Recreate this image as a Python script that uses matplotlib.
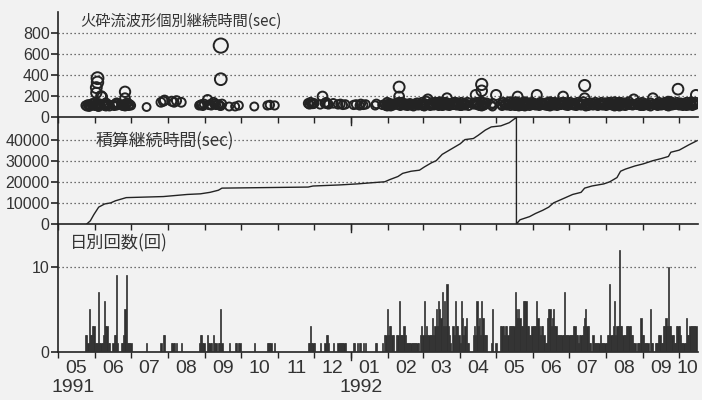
import numpy as np
import pandas as pd
import matplotlib
matplotlib.use("Agg")
import matplotlib.pyplot as plt
import matplotlib.transforms as mtransforms

# ---------------- data ----------------
START = "1991-05-01"          # day 0
END_DAY = 534.7               # right edge of the time axis (days after START)

# daily number of pyroclastic-flow signals: (day after START, count)
daily_counts = [
    (23,2),(24,2),(25,1),(26,5),(27,2),(28,2),(29,3),(30,3),(31,1),(32,1),(33,1),(34,7),(35,1),(36,1),
    (37,1),(38,2),(39,6),(40,3),(41,3),(42,1),(43,1),(46,1),(47,2),(48,2),(49,9),(50,1),(53,1),(54,1),
    (55,2),(56,5),(57,9),(58,1),(59,1),(60,1),(61,1),
    (74,1),(86,1),(88,2),(89,2),(95,1),(96,1),(97,1),(99,1),(103,1),
    (118,1),(119,2),(120,2),(121,1),(122,1),(125,2),(126,1),(127,1),(128,1),(130,2),(131,1),(132,1),
    (134,1),(135,1),(136,5),(137,1),
    (143,1),(148,1),(149,1),(151,1),(152,1),(164,1),(175,1),(176,1),(177,1),(178,1),(181,1),
    (209,1),(210,1),(211,3),(212,1),(213,1),(214,1),(219,1),(223,1),(224,2),(225,2),(226,1),(230,1),
    (234,1),(235,1),(236,1),(237,1),(238,1),(239,1),(240,1),
    (247,1),(248,1),(250,1),(252,1),(253,1),(255,1),(257,1),(265,1),(266,1),(271,1),
    (273,2),(274,2),(275,5),(276,2),(277,3),(278,3),(279,2),(280,2),
    (283,2),(284,2),(285,6),(286,2),(287,2),(288,2),(289,3),(290,2),
    (291,1),(292,1),(293,1),(294,1),(295,1),(296,1),(297,1),(298,1),(299,1),(300,1),(301,1),
    (303,2),(304,3),(305,2),(306,6),(307,2),(308,3),(309,2),(310,2),(311,2),(312,2),(313,4),(314,2),
    (315,3),(316,5),(317,3),(318,6),(319,5),(320,4),(321,7),(322,3),(323,6),(324,3),(325,8),(326,3),
    (327,2),(328,1),(330,3),(331,2),(332,6),(333,3),(334,3),(335,2),(336,1),(337,6),(338,4),(339,2),
    (340,3),(341,4),(342,1),(343,1),
    (347,2),(348,3),(349,2),(350,6),(351,3),(352,4),(353,2),(354,6),(355,4),(356,2),(357,2),(358,2),
    (362,1),(363,5),(366,1),
    (370,3),(371,3),(372,3),(373,2),(374,3),(375,3),(376,2),(377,3),(378,3),(379,3),(380,3),(381,3),
    (382,7),(383,5),(384,4),(385,5),(386,4),(387,3),(388,3),(389,6),(390,6),(391,6),(392,3),(393,3),
    (394,2),(395,2),(396,3),(397,3),(398,3),(399,3),(400,6),(401,4),(402,3),(403,2),(404,3),(405,3),
    (406,2),(407,1),(408,1),(409,4),(410,5),(411,5),(412,3),(413,4),(414,5),(415,3),(416,3),(417,2),
    (418,2),(419,2),(420,2),(421,2),(422,2),(423,7),(424,2),(425,2),(426,2),(427,2),(428,2),(429,2),
    (430,2),(431,3),(432,3),(433,2),(434,2),(435,1),(436,2),(437,2),(438,2),(439,3),(440,4),(441,5),
    (442,3),(443,3),(444,1),(445,1),(447,2),(448,1),(449,1),(450,1),(451,1),(452,1),(453,2),(454,1),
    (455,1),(456,1),(457,1),(458,1),(459,2),(460,2),(461,8),(462,2),(463,2),(464,3),(465,6),(466,2),
    (467,3),(468,3),(469,12),(470,3),(471,3),(472,2),(473,2),(474,2),(475,3),(476,3),(477,3),(478,3),
    (479,2),(480,2),(481,1),(482,1),(484,1),(485,1),(486,1),(487,4),(488,2),(489,2),(490,1),(491,1),
    (492,1),(493,1),(495,5),(496,1),(497,1),(499,1),(500,1),(501,1),(502,2),(503,2),(504,1),(505,1),
    (506,3),(507,3),(508,4),(509,3),(510,10),(511,3),(512,3),(513,2),(514,2),(515,1),(516,1),(517,3),
    (518,3),(519,3),(520,2),(521,1),(522,1),(523,1),(524,1),(525,4),(526,2),(527,2),(528,3),(529,3),
    (530,3),(531,3),(532,3),(533,3),
]

# individual signal durations (sec): (day after START, duration)
durations_1991 = [
    (23,110),(24,100),(25,120),(26,115),(27,105),(28,125),(29,110),(30,130),(31,105),(32,120),(33,100),
    (32,230),(32,280),(33,330),(33,370),(34,130),(34,110),(35,115),(36,200),(37,190),(38,120),(39,105),
    (40,135),(41,110),(42,120),(43,100),(46,115),(47,105),(48,125),(49,110),(50,130),(53,115),(54,105),
    (55,120),(56,240),(56,180),(57,110),(58,135),(59,105),(60,120),(61,110),
    (26,95),(29,130),(34,95),(39,125),(40,100),(49,135),(56,100),(57,130),
    (74,95),(86,140),(88,150),(89,160),(95,150),(97,140),(99,155),(103,140),
    (118,110),(119,115),(120,120),(121,105),(122,125),(125,165),(126,115),(127,120),(128,110),(130,140),
    (131,125),(132,115),(134,120),(135,110),(136,680),(136,360),(137,125),(136,105),
    (143,100),(148,100),(151,110),(164,100),(175,110),(177,115),(181,110),
    (209,130),(210,120),(211,140),(212,125),(213,125),(214,130),(219,120),(221,195),(223,130),(224,140),
    (225,125),(226,120),(230,130),(234,120),(236,125),(238,115),(240,120),
]
durations_1992 = [
    (247,115),(249,120),(252,110),(253,125),(255,115),(257,120),(265,110),(266,125),(271,115),
    (273,120),(274,105),(275,140),(276,115),(277,130),(278,100),(279,125),(280,110),(283,135),(284,115),
    (285,285),(285,195),(285,120),(286,105),(287,140),(288,120),(289,130),(290,110),(291,125),(292,105),
    (293,115),(294,130),(295,110),(296,120),(297,100),(298,125),(299,115),(300,135),(301,110),(303,120),
    (304,140),(305,105),(306,130),(307,115),(308,150),(309,170),(310,120),(311,105),(312,135),(313,125),
    (314,110),(315,140),(316,120),(317,130),(318,105),(319,145),(320,115),(321,135),(322,110),(323,125),
    (324,140),(325,180),(326,120),(327,105),(328,130),(330,115),(331,140),(332,120),(333,110),(334,135),
    (335,125),(336,105),(337,140),(338,115),(339,130),(340,110),(341,125),(342,140),(343,105),(347,120),
    (348,135),(349,210),(350,115),(351,130),(352,105),(353,145),(354,310),(354,250),(354,120),(355,140),
    (356,110),(357,125),(358,135),(362,115),(363,130),(366,210),(370,120),(371,105),(372,140),(373,115),
    (374,130),(375,110),(376,125),(377,145),(378,105),(379,135),(380,120),(381,110),(382,140),(383,125),
    (384,195),(385,115),(386,135),(387,105),(388,130),(389,120),(390,145),(391,110),(392,125),(393,135),
    (394,105),(395,120),(396,140),(397,115),(398,130),(399,110),(400,210),(401,125),(402,105),(403,140),
    (404,115),(405,130),(406,120),(407,110),(408,135),(409,105),(410,125),(411,145),(412,115),(413,130),
    (414,110),(415,140),(416,120),(417,105),(418,135),(419,125),(420,115),(421,140),(422,195),(423,120),
    (424,110),(425,135),(426,105),(427,125),(428,140),(429,115),(430,130),(431,110),(432,125),(433,105),
    (434,140),(435,120),(436,130),(437,110),(438,125),(439,145),(440,300),(440,180),(441,115),(442,130),
    (443,105),(444,120),(445,135),(447,110),(448,125),(449,140),(450,115),(451,105),(452,130),(453,120),
    (454,140),(455,110),(456,125),(457,135),(458,105),(459,120),(460,140),(461,115),(462,130),(463,110),
    (464,125),(465,145),(466,105),(467,135),(468,120),(469,115),(470,140),(471,125),(472,110),(473,135),
    (474,105),(475,130),(476,120),(477,145),(478,115),(479,125),(480,110),(481,170),(482,120),(484,115),
    (485,135),(486,110),(487,125),(488,140),(489,105),(490,130),(491,115),(492,125),(493,110),(495,135),
    (496,120),(497,180),(499,115),(500,125),(501,105),(502,140),(503,120),(504,110),(505,130),(506,115),
    (507,140),(508,125),(509,105),(510,135),(511,120),(512,145),(513,110),(514,130),(515,115),(516,125),
    (517,140),(518,265),(518,120),(519,110),(520,135),(521,125),(522,105),(523,130),(524,115),(525,140),
    (526,120),(527,110),(528,135),(529,125),(530,105),(531,130),(532,115),(533,210),(533,140),
    # second signals on busy days
    (275,100),(285,140),(306,100),(316,140),(318,125),(321,105),(323,140),(325,110),(332,140),(337,105),
    (350,140),(354,100),(363,100),(382,105),(383,145),(385,100),(389,140),(390,100),(391,135),(400,120),
    (410,140),(411,100),(414,130),(423,140),(441,100),(461,140),(465,100),(469,140),(469,100),(487,105),
    (495,100),(508,140),(510,100),(510,150),(525,105),(529,145),
]

# cumulative duration (sec), reset in May 1992: (day after START, value)
cumulative = [
    (24,0),(25,500),(27,1500),(30,4500),(34,8000),(39,9500),(44,10000),(48,11000),(57,12500),(88,13000),
    (108,14000),(119,14300),(127,15000),(134,16000),(137,17000),(209,17500),(213,18000),(235,18500),
    (250,19000),(261,19500),(273,20000),(277,21000),(284,22500),(288,24000),(295,25000),(302,25500),
    (306,27000),(312,29000),(316,30000),(321,33000),(327,35000),(336,38000),(340,40000),(347,40500),
    (351,42000),(357,44500),(362,46000),(370,46500),(377,48000),(383,50500),(383,0),(386,2000),
    (394,3500),(399,5000),(405,6500),(410,8000),(414,10000),(418,11000),(424,12500),(430,14000),
    (437,15000),(440,17000),(446,18000),(456,19000),(461,20000),(467,22000),(470,25000),(474,26000),
    (482,27500),(489,28500),(497,30000),(504,31000),(510,32000),(512,34000),(519,35000),(527,37500),
    (534,39500),
]

top_yticks = [0, 200, 400, 600, 800]
mid_yticks = [0, 10000, 20000, 30000, 40000]
bot_yticks = [0, 10]
month_labels = ["05","06","07","08","09","10","11","12","01","02","03","04","05","06","07","08","09","10"]
year_labels = ["1991", "1992"]
titles = ["火砕流波形個別継続時間(sec)", "積算継続時間(sec)", "日別回数(回)"]

# ---------------- helpers ----------------
start = pd.Timestamp(START)
def to_dt(days):
    return [start + pd.Timedelta(days=float(d)) for d in days]

INK = "#232323"
BG = "#f2f2f2"
NUM_FONT = ["Liberation Sans", "DejaVu Sans"]
CJK_FONT = ["Noto Sans CJK JP", "DejaVu Sans"]

fig = plt.figure(figsize=(7.02, 4.0), dpi=100, facecolor=BG)
L, W = 58/702, 640/702
ax1 = fig.add_axes([L, 1-117/400, W, 105/400])
ax2 = fig.add_axes([L, 1-224/400, W, 107/400], sharex=ax1)
ax3 = fig.add_axes([L, 1-352/400, W, 128/400], sharex=ax1)

# top: individual durations
ev = durations_1991 + durations_1992
ev_d = [e[0] for e in ev]
ev_v = np.array([e[1] for e in ev], dtype=float)
r_px = 4.0 * (ev_v / 100.0) ** 0.3
sizes = (2 * r_px * 0.72) ** 2
ax1.scatter(to_dt(ev_d), ev_v, s=sizes, facecolors="none", edgecolors=INK, linewidths=1.4, zorder=3)
ax1.set_ylim(0, 1000)
ax1.set_yticks(top_yticks)

# middle: cumulative
ax2.plot(to_dt([c[0] for c in cumulative]), [c[1] for c in cumulative], color=INK, lw=1.0, zorder=3)
ax2.set_ylim(0, 50700)
ax2.set_yticks(mid_yticks)

# bottom: daily counts
ax3.bar(to_dt([c[0] for c in daily_counts]), [c[1] for c in daily_counts], width=1.0,
        color="#303030", edgecolor="#303030", linewidth=0.5, zorder=3)
ax3.set_ylim(0, 15)
ax3.set_yticks(bot_yticks)

xmin, xmax = to_dt([0, END_DAY])
month_starts = pd.date_range("1991-05-01", "1992-10-01", freq="MS")
label_pos = [m + pd.Timedelta(days=15) for m in month_starts[:-1]] + [pd.Timestamp("1992-10-08")]

ax3.set_xticks(month_starts)
ax3.set_xticks(label_pos, minor=True)
ax3.set_xticklabels(month_labels, minor=True)

for ax, yt, title, (tx, ty, fs) in zip((ax1, ax2, ax3), (top_yticks, mid_yticks, bot_yticks), titles,
                                        [(0.034, 0.91, 11), (0.058, 0.77, 12.2), (0.018, 0.85, 12.4)]):
    ax.set_facecolor("none")
    ax.set_xlim(xmin, xmax)
    for s in ("top", "right"):
        ax.spines[s].set_visible(False)
    for s in ("left", "bottom"):
        ax.spines[s].set_color(INK)
        ax.spines[s].set_linewidth(1.2)
    for y in yt[1:]:
        ax.axhline(y, color="#444444", lw=0.9, ls=(0, (1, 2.2)), zorder=1)
    ax.tick_params(axis="x", which="major", direction="out", length=4, width=1, color=INK,
                   labelbottom=False)
    ax.tick_params(axis="x", which="minor", length=0)
    ax.tick_params(axis="y", direction="out", length=5, width=1.2, color=INK, pad=1, labelsize=11.5,
                   labelcolor="#333333")
    for lab in ax.get_yticklabels():
        lab.set_family(NUM_FONT)
    tr = mtransforms.blended_transform_factory(ax.transData, ax.transAxes)
    jan = pd.Timestamp("1992-01-01")
    ax.plot([jan, jan], [0, -8 / (ax.get_position().height * 400)], transform=tr, color=INK, lw=1,
            clip_on=False)
    ax.text(tx, ty, title, transform=ax.transAxes, fontsize=fs, family=CJK_FONT, color="#333333",
            ha="left", va="center", zorder=5)

ax1.tick_params(axis="x", which="both", labelbottom=False)
ax2.tick_params(axis="x", which="both", labelbottom=False)
ax3.tick_params(axis="x", which="minor", length=0, pad=6, labelsize=14, labelcolor="#333333",
                labelbottom=True)
for lab in ax3.get_xticklabels(minor=True):
    lab.set_family(NUM_FONT)

trb = mtransforms.blended_transform_factory(ax3.transData, fig.transFigure)
for txt, d in zip(year_labels, ["1991-05-14", "1992-01-09"]):
    ax3.text(pd.Timestamp(d), 1 - 388/400, txt, transform=trb, ha="center", va="center",
             fontsize=14, family=NUM_FONT, color="#333333")

fig.savefig("out.png", dpi=100, facecolor=BG)
